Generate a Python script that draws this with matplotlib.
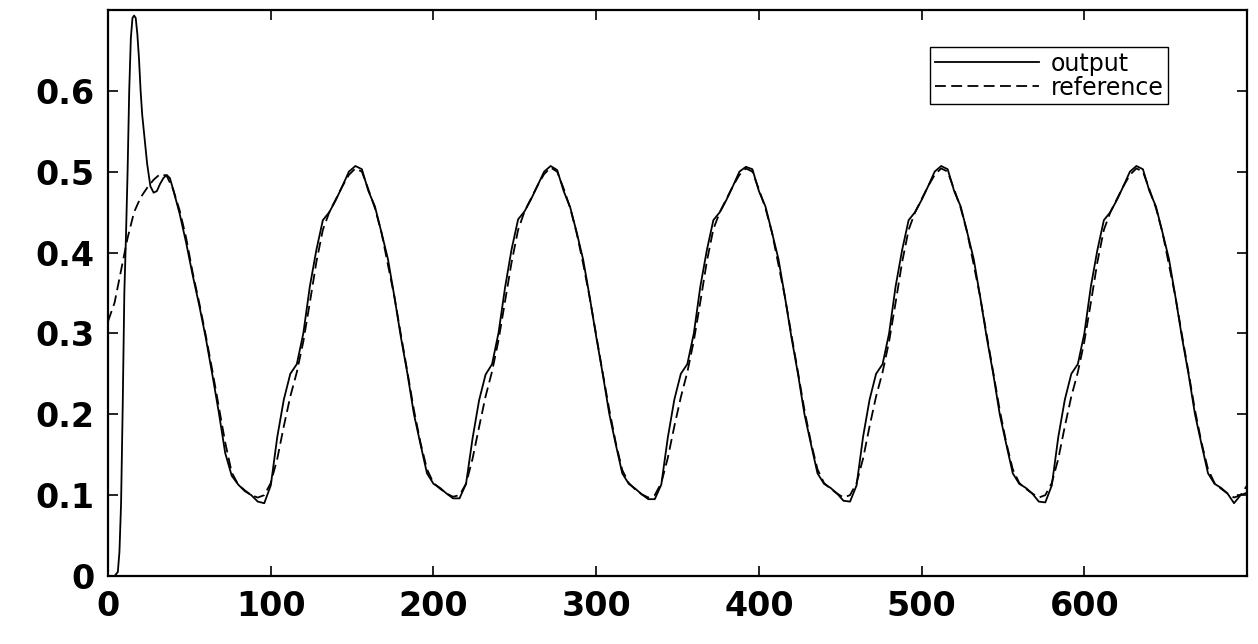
import numpy as np
import matplotlib
matplotlib.use("Agg")
import matplotlib.pyplot as plt

# Datos (eje x: muestras, paso 4)
ref_x = np.arange(0, 701, 4)
ref_y = [
    # 0 .. 88
    0.315, 0.338, 0.378, 0.418, 0.450, 0.468, 0.480, 0.490, 0.497, 0.495,
    0.478, 0.452, 0.418, 0.375, 0.338, 0.298, 0.255, 0.210, 0.165, 0.128,
    0.113, 0.106, 0.100,
    # 92 .. 208
    0.097, 0.100, 0.115, 0.145, 0.185, 0.222, 0.252, 0.290, 0.338, 0.388,
    0.428, 0.450, 0.466, 0.482, 0.496, 0.504, 0.500, 0.478, 0.455, 0.425,
    0.385, 0.345, 0.298, 0.252, 0.205, 0.165, 0.132, 0.115, 0.108, 0.102,
    # 212 .. 328
    0.098, 0.100, 0.114, 0.145, 0.184, 0.222, 0.253, 0.292, 0.340, 0.388,
    0.428, 0.451, 0.467, 0.483, 0.497, 0.505, 0.500, 0.479, 0.455, 0.424,
    0.386, 0.344, 0.298, 0.251, 0.206, 0.165, 0.131, 0.115, 0.107, 0.101,
    # 332 .. 448
    0.097, 0.100, 0.115, 0.146, 0.185, 0.221, 0.252, 0.291, 0.339, 0.389,
    0.429, 0.450, 0.466, 0.482, 0.496, 0.504, 0.500, 0.478, 0.455, 0.425,
    0.385, 0.345, 0.298, 0.252, 0.205, 0.165, 0.132, 0.115, 0.108, 0.102,
    # 452 .. 568
    0.097, 0.100, 0.115, 0.145, 0.185, 0.222, 0.252, 0.290, 0.338, 0.388,
    0.428, 0.450, 0.466, 0.482, 0.496, 0.504, 0.500, 0.478, 0.455, 0.425,
    0.385, 0.345, 0.298, 0.252, 0.205, 0.165, 0.132, 0.115, 0.108, 0.102,
    # 572 .. 688
    0.097, 0.100, 0.115, 0.145, 0.185, 0.222, 0.252, 0.290, 0.338, 0.388,
    0.428, 0.450, 0.466, 0.482, 0.496, 0.504, 0.500, 0.478, 0.455, 0.425,
    0.385, 0.345, 0.298, 0.252, 0.205, 0.165, 0.132, 0.115, 0.108, 0.102,
    # 692 .. 700
    0.097, 0.100, 0.112,
]

out_x = np.concatenate([
    [0, 2, 4, 6, 7, 8, 9, 10, 11, 12, 13, 14, 15, 16, 17, 18, 19, 20, 21, 22,
     24, 26, 28, 30, 32, 34, 36, 38, 40],
    np.arange(44, 701, 4),
])
out_y = [
    # transitorio inicial 0 .. 40
    0.0, 0.0, 0.0, 0.005, 0.03, 0.09, 0.21, 0.35, 0.42, 0.50,
    0.60, 0.665, 0.69, 0.693, 0.69, 0.67, 0.64, 0.60, 0.57, 0.55,
    0.51, 0.482, 0.474, 0.476, 0.485, 0.492, 0.496, 0.492, 0.478,
    # 44 .. 88
    0.448, 0.412, 0.372, 0.335, 0.295, 0.250, 0.203, 0.152, 0.124, 0.113,
    0.105, 0.100,
    # 92 .. 208
    0.092, 0.090, 0.112, 0.172, 0.218, 0.250, 0.262, 0.300, 0.358, 0.403,
    0.440, 0.450, 0.465, 0.482, 0.500, 0.507, 0.503, 0.476, 0.457, 0.425,
    0.392, 0.345, 0.295, 0.250, 0.200, 0.163, 0.127, 0.114, 0.109, 0.102,
    # 212 .. 328
    0.096, 0.096, 0.114, 0.170, 0.217, 0.249, 0.262, 0.301, 0.357, 0.404,
    0.441, 0.451, 0.466, 0.483, 0.500, 0.507, 0.502, 0.476, 0.456, 0.425,
    0.391, 0.345, 0.296, 0.250, 0.201, 0.163, 0.127, 0.114, 0.108, 0.101,
    # 332 .. 448
    0.095, 0.095, 0.113, 0.171, 0.218, 0.250, 0.262, 0.300, 0.358, 0.403,
    0.440, 0.450, 0.465, 0.482, 0.500, 0.506, 0.503, 0.476, 0.457, 0.425,
    0.392, 0.345, 0.295, 0.250, 0.200, 0.163, 0.127, 0.114, 0.109, 0.102,
    # 452 .. 568
    0.093, 0.092, 0.112, 0.172, 0.218, 0.250, 0.262, 0.300, 0.358, 0.403,
    0.440, 0.450, 0.465, 0.482, 0.500, 0.507, 0.503, 0.476, 0.457, 0.425,
    0.392, 0.345, 0.295, 0.250, 0.200, 0.163, 0.127, 0.114, 0.109, 0.102,
    # 572 .. 688
    0.092, 0.091, 0.112, 0.172, 0.218, 0.250, 0.262, 0.300, 0.358, 0.403,
    0.440, 0.450, 0.465, 0.482, 0.500, 0.507, 0.503, 0.476, 0.457, 0.425,
    0.392, 0.345, 0.295, 0.250, 0.200, 0.163, 0.127, 0.114, 0.109, 0.102,
    # 692 .. 700
    0.090, 0.100, 0.103,
]

x_ticks = [0, 100, 200, 300, 400, 500, 600]
y_ticks = [0, 0.1, 0.2, 0.3, 0.4, 0.5, 0.6]
y_tick_labels = ["0", "0.1", "0.2", "0.3", "0.4", "0.5", "0.6"]

fig = plt.figure(figsize=(12.58, 6.44), dpi=100)
ax = fig.add_axes([0.0859, 0.1056, 0.9054, 0.879])

ax.plot(out_x, out_y, color="black", linewidth=1.3, label="output")
ax.plot(ref_x, ref_y, color="black", linewidth=1.3, dashes=(6, 3),
        label="reference")

ax.set_xlim(0, 700)
ax.set_ylim(0, 0.7)
ax.set_xticks(x_ticks)
ax.set_yticks(y_ticks)
ax.set_yticklabels(y_tick_labels)

for spine in ax.spines.values():
    spine.set_linewidth(1.6)

ax.tick_params(direction="in", length=7, width=1.2, top=True, right=True,
               labelsize=24, pad=10)
for lbl in ax.get_xticklabels() + ax.get_yticklabels():
    lbl.set_fontweight("bold")
    lbl.set_family("DejaVu Sans")

# Leyenda en la esquina superior derecha
leg = ax.legend(loc="upper right", bbox_to_anchor=(1168 / 1258, 1 - 47 / 644),
                bbox_transform=fig.transFigure, borderaxespad=0,
                fancybox=False, framealpha=1, edgecolor="black",
                fontsize=17, handlelength=4.4, labelspacing=0.0,
                borderpad=0.2, handletextpad=0.5)
leg.get_frame().set_linewidth(1.0)

fig.savefig("out.png", dpi=100)
